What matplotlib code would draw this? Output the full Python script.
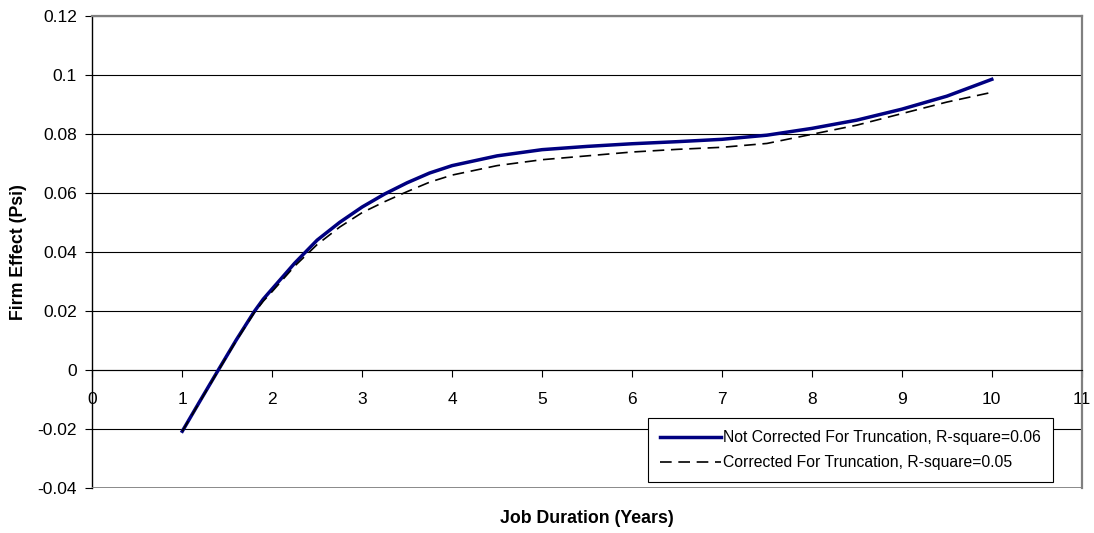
#Grafico del efecto de la firma contra la duracion del empleo
import matplotlib.pyplot as plt

#----------------------------Datos------------------------
duracion = [1.0, 1.2, 1.4, 1.6, 1.8, 1.9, 2.0, 2.25, 2.5, 2.75, 3.0, 3.25, 3.5, 3.75, 4.0,
            4.5, 5.0, 5.5, 6.0, 6.5, 7.0, 7.5, 8.0, 8.5, 9.0, 9.5, 10.0]

#Sin corregir por truncamiento (linea azul)
no_corregido = [-0.0207, -0.0103, 0.0, 0.0102, 0.0198, 0.0240, 0.0275, 0.0362, 0.0440,
                0.0500, 0.0552, 0.0596, 0.0634, 0.0667, 0.0692, 0.0725, 0.0746, 0.0757,
                0.0766, 0.0773, 0.0781, 0.0795, 0.0818, 0.0846, 0.0883, 0.0927, 0.0984]

#Corregido por truncamiento (linea punteada)
corregido = [-0.0207, -0.0105, -0.0002, 0.0099, 0.0194, 0.0233, 0.0266, 0.0352, 0.0425,
             0.0484, 0.0533, 0.0570, 0.0604, 0.0636, 0.0660, 0.0692, 0.0712, 0.0725,
             0.0738, 0.0747, 0.0754, 0.0767, 0.0798, 0.0829, 0.0868, 0.0907, 0.0940]

x_ticks = list(range(0, 12))
y_ticks = [-0.04, -0.02, 0.0, 0.02, 0.04, 0.06, 0.08, 0.1, 0.12]
y_etiquetas = ["-0.04", "-0.02", "0", "0.02", "0.04", "0.06", "0.08", "0.1", "0.12"]

#----------------------------Grafico------------------------
plt.rcParams['font.family'] = ['Liberation Sans', 'DejaVu Sans']

fig = plt.figure(figsize=(10.94, 5.33), dpi=100)
ax = fig.add_axes([0.0844, 0.0839, 0.9044, 0.887])

ax.plot(duracion, no_corregido, color='#000080', linewidth=2.5,
        label='Not Corrected For Truncation, R-square=0.06', zorder=4)
ax.plot(duracion, corregido, color='black', linewidth=1.2, dashes=(7, 4),
        label='Corrected For Truncation, R-square=0.05', zorder=5)

ax.set_xlim(0, 11)
ax.set_ylim(-0.04, 0.12)
ax.set_xticks(x_ticks)
ax.set_yticks(y_ticks)
ax.set_yticklabels(y_etiquetas)

#lineas horizontales de la cuadricula
ax.set_axisbelow(True)
ax.yaxis.grid(True, color='black', linewidth=0.8)

#eje x cruza en y=0 como en excel
ax.spines['bottom'].set_position(('data', 0))
ax.spines['bottom'].set_color('black')
ax.spines['bottom'].set_linewidth(0.8)
ax.spines['left'].set_color('black')
ax.spines['left'].set_linewidth(1.0)
ax.spines['top'].set_color('#808080')
ax.spines['top'].set_linewidth(1.6)
ax.spines['right'].set_color('#808080')
ax.spines['right'].set_linewidth(1.6)
ax.axhline(ax.get_ylim()[0], color='#808080', linewidth=2.0, zorder=3)

ax.tick_params(axis='x', direction='out', length=5, width=0.8, pad=11, labelsize=12.5)
ax.tick_params(axis='y', direction='out', length=5, width=0.8, pad=6, labelsize=12.5)

ax.set_xlabel('Job Duration (Years)', fontsize=12.8, fontweight='bold', va='center')
ax.xaxis.set_label_coords(0.5, -0.063)
ax.set_ylabel('Firm Effect (Psi)', fontsize=12.8, fontweight='bold', va='center')
ax.yaxis.set_label_coords(-0.075, 0.5)

leg = ax.legend(loc='lower right', bbox_to_anchor=(0.9707, 0.0133), fontsize=11.3,
                frameon=True, fancybox=False, edgecolor='black', framealpha=1,
                handlelength=3.9, handletextpad=0.15, borderpad=0.75, labelspacing=0.65,
                borderaxespad=0)
leg.get_frame().set_linewidth(0.8)

fig.savefig('out.png', dpi=100)
